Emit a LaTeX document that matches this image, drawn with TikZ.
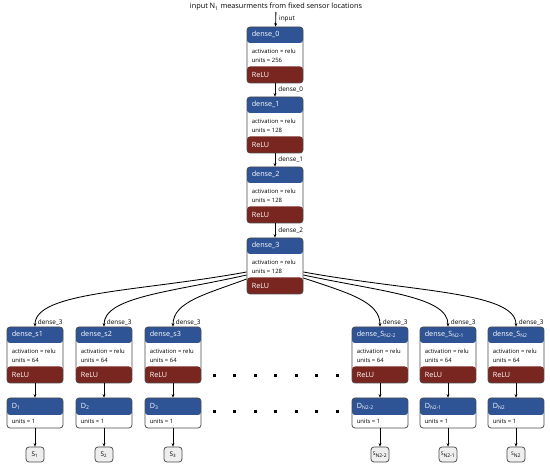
\documentclass[tikz,border=0pt]{standalone}
\usepackage{fontspec}
\setmainfont{Open Sans}
\usetikzlibrary{arrows.meta}
\definecolor{hdrblue}{RGB}{46,84,150}
\definecolor{relured}{RGB}{122,38,32}
\definecolor{boxgray}{RGB}{75,75,75}
\definecolor{outgray}{RGB}{238,238,238}
\tikzset{
  box/.style={draw=boxgray, line width=0.75pt, rounded corners=3pt, fill=white,
    minimum width=56pt, inner sep=0pt},
  densebox/.style={box, minimum height=56pt, path picture={
    \fill[hdrblue] (path picture bounding box.north west) rectangle ([yshift=-16pt]path picture bounding box.north east);
    \fill[relured] (path picture bounding box.south west) rectangle ([yshift=16.5pt]path picture bounding box.south east);}},
  outbox/.style={box, minimum height=30pt, path picture={
    \fill[hdrblue] (path picture bounding box.north west) rectangle ([yshift=-17pt]path picture bounding box.north east);}},
  sbox/.style={draw=boxgray, line width=0.75pt, rounded corners=3pt, fill=outgray,
    minimum width=18pt, minimum height=15pt, inner sep=1.5pt, font=\fontsize{6.4}{7}\selectfont},
  hdrtext/.style={anchor=west, inner sep=0pt, text=white, font=\fontsize{7.2}{8}\selectfont},
  bodytext/.style={anchor=west, inner sep=0pt, font=\fontsize{5.9}{6.5}\selectfont},
  lbl/.style={inner sep=1pt, font=\fontsize{6.4}{7}\selectfont},
  conn/.style={-{Stealth[length=3.5pt,width=3pt]}, line width=0.85pt},
}
\begin{document}
\begin{tikzpicture}[x=1pt, y=-1pt]
\useasboundingbox (0,0) rectangle (550,468);
% input
\node[lbl, font=\fontsize{7.3}{8}\selectfont] (title) at (276,7) {input N\textsubscript{1} measurments from fixed sensor locations};

% shared dense layers
\foreach \i/\y/\u in {0/55/256, 1/125/128, 2/195/128, 3/266/128} {
  \node[densebox] (d\i) at (275,\y) {};
  \node[hdrtext] (d\i-h) at ([xshift=5pt,yshift=-8pt]d\i.north west) {dense\_\i};
  \node[bodytext] (d\i-a) at ([xshift=5pt,yshift=-24.5pt]d\i.north west) {activation = relu};
  \node[bodytext] (d\i-u) at ([xshift=5pt,yshift=-33.5pt]d\i.north west) {units = \u};
  \node[hdrtext] (d\i-r) at ([xshift=5pt,yshift=8pt]d\i.south west) {ReLU};
}
\draw[conn] (title) -- node[lbl, right=2pt] {input} (d0);
\foreach \i/\j in {0/1, 1/2, 2/3}
  \draw[conn] (d\i) -- node[lbl, right=2pt] {dense\_\i} (d\j);

% one branch per sensor
\foreach \k/\x/\hd/\dd/\ss in {
    1/35/{dense\_s1}/{D\textsubscript{1}}/{S\textsubscript{1}},
    2/104/{dense\_s2}/{D\textsubscript{2}}/{S\textsubscript{2}},
    3/173/{dense\_s3}/{D\textsubscript{3}}/{S\textsubscript{3}},
    4/380/{dense\_S\textsubscript{N2-2}}/{D\textsubscript{N2-2}}/{\fontsize{5}{6}\selectfont S\textsubscript{N2-2}},
    5/448/{dense\_S\textsubscript{N2-1}}/{D\textsubscript{N2-1}}/{\fontsize{5}{6}\selectfont S\textsubscript{N2-1}},
    6/516/{dense\_S\textsubscript{N2}}/{D\textsubscript{N2}}/{\fontsize{5}{6}\selectfont S\textsubscript{N2}}} {
  \node[densebox] (ds\k) at (\x,355) {};
  \node[hdrtext] (ds\k-h) at ([xshift=5pt,yshift=-8pt]ds\k.north west) {\hd};
  \node[bodytext] (ds\k-a) at ([xshift=5pt,yshift=-24.5pt]ds\k.north west) {activation = relu};
  \node[bodytext] (ds\k-u) at ([xshift=5pt,yshift=-33.5pt]ds\k.north west) {units = 64};
  \node[hdrtext] (ds\k-r) at ([xshift=5pt,yshift=8pt]ds\k.south west) {ReLU};
  \node[outbox] (o\k) at (\x,413) {};
  \node[hdrtext] (o\k-h) at ([xshift=5pt,yshift=-9pt]o\k.north west) {\dd};
  \node[bodytext] (o\k-u) at ([xshift=5pt,yshift=-24pt]o\k.north west) {units = 1};
  \node[sbox] (s\k) at (\x,454.5) {\ss};
  \draw[conn] (ds\k) -- (o\k);
  \draw[conn] (o\k) -- (s\k);
}

% fan out from dense_3
\draw[conn] ([yshift=-6pt]d3.west) .. controls +(-110,20) and +(0,-35) .. node[pos=1, lbl, anchor=south west, xshift=1.5pt] {dense\_3} (ds1.north);
\draw[conn] ([yshift=-9pt]d3.west) .. controls +(-75,17) and +(0,-30) .. node[pos=1, lbl, anchor=south west, xshift=1.5pt] {dense\_3} (ds2.north);
\draw[conn] ([yshift=-13pt]d3.west) .. controls +(-40,15) and +(0,-25) .. node[pos=1, lbl, anchor=south west, xshift=1.5pt] {dense\_3} (ds3.north);
\draw[conn] ([yshift=-12pt]d3.east) .. controls +(45,15) and +(0,-25) .. node[pos=1, lbl, anchor=south west, xshift=1.5pt] {dense\_3} (ds4.north);
\draw[conn] ([yshift=-9pt]d3.east) .. controls +(80,17) and +(0,-30) .. node[pos=1, lbl, anchor=south west, xshift=1.5pt] {dense\_3} (ds5.north);
\draw[conn] ([yshift=-6pt]d3.east) .. controls +(110,20) and +(0,-35) .. node[pos=1, lbl, anchor=south west, xshift=1.5pt] {dense\_3} (ds6.north);

% dots between the branches
\foreach \i in {0,...,6} {
  \fill (212.5+20.5*\i,374.5) rectangle +(3,3);
  \fill (212.5+20.5*\i,410) rectangle +(3,3);
}
\end{tikzpicture}
\end{document}
